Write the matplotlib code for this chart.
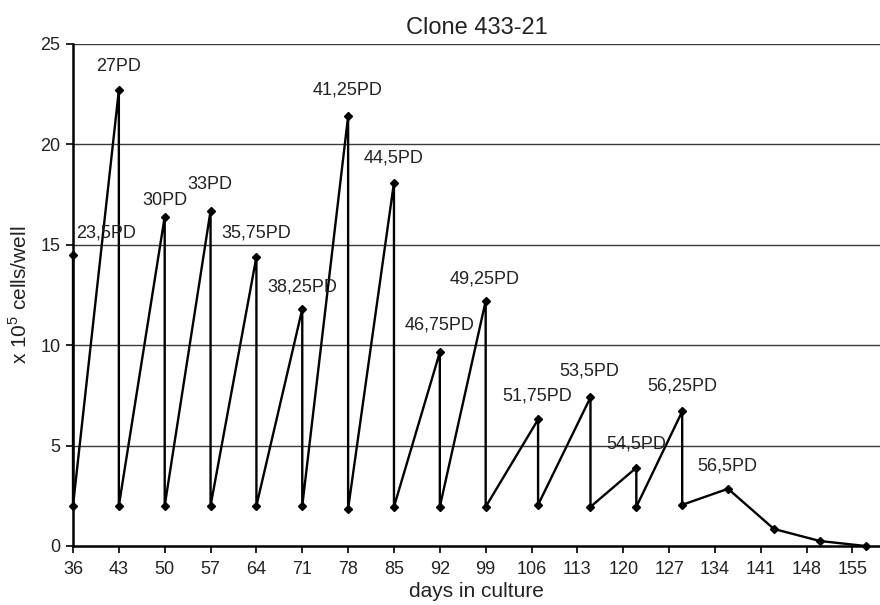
import matplotlib
matplotlib.use('Agg')
from matplotlib import pyplot as plt

plt.rcParams['font.family'] = ['Liberation Sans', 'DejaVu Sans']
plt.rcParams['mathtext.fontset'] = 'custom'
plt.rcParams['mathtext.rm'] = 'Liberation Sans'

# counts before/after each split (day, x 10^5 cells/well)
days = [36, 36, 43, 43, 50, 50, 57, 57, 64, 64, 71, 71, 78, 78, 85, 85,
        92, 92, 99, 99, 107, 107, 115, 115, 122, 122, 129, 129, 136, 143, 150, 157]
cells = [14.5, 2.0, 22.7, 2.0, 16.4, 2.0, 16.7, 2.0, 14.4, 2.0, 11.8, 2.0,
         21.4, 1.85, 18.1, 1.95, 9.65, 1.95, 12.2, 1.95, 6.3, 2.05, 7.4, 1.95,
         3.9, 1.95, 6.7, 2.05, 2.85, 0.85, 0.25, 0.0]

# population doubling labels
pd_labels = ['23,5PD', '27PD', '30PD', '33PD', '35,75PD', '38,25PD', '41,25PD',
             '44,5PD', '46,75PD', '49,25PD', '51,75PD', '53,5PD', '54,5PD',
             '56,25PD', '56,5PD']
pd_x = [41.1, 42.9, 50.0, 56.9, 64.0, 71.0, 77.9, 85.0, 91.9, 98.9, 106.9,
        114.8, 122.0, 129.0, 135.9]
pd_y = [15.6, 23.9, 17.2, 18.0, 15.6, 12.9, 22.7, 19.3, 11.0, 13.3, 7.45,
        8.7, 5.1, 7.95, 4.0]

xticks = [36, 43, 50, 57, 64, 71, 78, 85, 92, 99, 106, 113, 120, 127, 134, 141, 148, 155]
yticks = [0, 5, 10, 15, 20, 25]

fig = plt.figure(figsize=(8.8, 6.05), dpi=100)
ax = fig.add_axes([73 / 880, 1 - 546 / 605, 1 - 73 / 880, (546 - 44) / 605])

for y in yticks[1:]:
    ax.axhline(y, color='#3a3a3a', lw=1.0, zorder=1)

ax.plot(days, cells, color='black', lw=1.7, marker='D', markersize=4,
        clip_on=False, zorder=3)

for lab, x, y in zip(pd_labels, pd_x, pd_y):
    ax.text(x, y, lab, ha='center', va='center', fontsize=13, color='#222222')

ax.set_xlim(36, 159.2)
ax.set_ylim(0, 25)
ax.set_xticks(xticks)
ax.set_yticks(yticks)
ax.tick_params(axis='both', labelsize=13, length=5, width=1.2, colors='black',
               labelcolor='#222222')
ax.tick_params(axis='x', pad=6)
ax.tick_params(axis='y', pad=4)

for s in ['top', 'right']:
    ax.spines[s].set_visible(False)
ax.spines['left'].set_linewidth(1.8)
ax.spines['bottom'].set_linewidth(1.8)

ax.set_title('Clone 433-21', fontsize=17, color='#222222', pad=7)
ax.set_xlabel('days in culture', fontsize=15, color='#222222', labelpad=3)
ax.set_ylabel('x 10$^{5}$ cells/well', fontsize=15, color='#222222', labelpad=7)

plt.savefig('out.png', dpi=100)
